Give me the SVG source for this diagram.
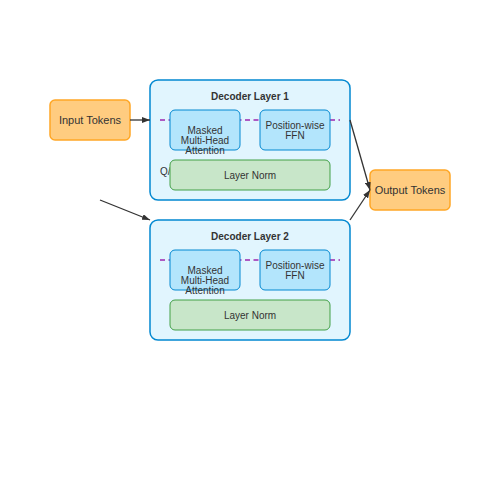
<svg xmlns="http://www.w3.org/2000/svg" width="500" height="500" viewBox="0 0 500 500">
<defs>
<marker id="arr" markerWidth="8" markerHeight="6" refX="8" refY="3" orient="auto" markerUnits="userSpaceOnUse">
<path d="M0,0 L8,3 L0,6 Z" fill="#333"/>
</marker>
<style>
text{font-family:"Liberation Sans",Arial,sans-serif;fill:#333;font-size:10px;text-anchor:middle}
.io{fill:#ffcc80;stroke:#ffa726;stroke-width:1.5}
.iot{font-size:11px}
.layer{fill:#e1f5fe;stroke:#0288d1;stroke-width:1.5}
.blk{fill:#b3e5fc;stroke:#0288d1;stroke-width:1}
.norm{fill:#c8e6c9;stroke:#43a047;stroke-width:1}
.dash{stroke:#9c27b0;stroke-width:1.5;stroke-dasharray:5,3.5;fill:none}
.conn{stroke:#333;stroke-width:1.3;fill:none}
.title{font-weight:bold}
</style>
</defs>
<rect width="500" height="500" fill="#fff"/>
<g id="input"><rect class="io" x="50" y="100" width="80" height="40" rx="5"/><text class="iot" x="90" y="124">Input Tokens</text></g>
<g id="output"><rect class="io" x="370" y="170" width="80" height="40" rx="5"/><text class="iot" x="410" y="194">Output Tokens</text></g>
<g id="layer1">
<rect class="layer" x="150" y="80" width="200" height="120" rx="8"/>
<text class="title" x="250" y="100">Decoder Layer 1</text>
<line class="dash" x1="160" y1="120" x2="340" y2="120"/>
<text x="160" y="175" style="text-anchor:start">Q/K/V</text>
<g id="attn1"><rect class="blk" x="170" y="110" width="70" height="40" rx="5"/><text x="205" y="134">Masked</text><text x="205" y="144">Multi-Head</text><text x="205" y="154">Attention</text></g>
<g id="ffn1"><rect class="blk" x="260" y="110" width="70" height="40" rx="5"/><text x="295" y="129">Position-wise</text><text x="295" y="139">FFN</text></g>
<g id="norm1"><rect class="norm" x="170" y="160" width="160" height="30" rx="5"/><text x="250" y="179">Layer Norm</text></g>
</g>
<g id="layer2">
<rect class="layer" x="150" y="220" width="200" height="120" rx="8"/>
<text class="title" x="250" y="240">Decoder Layer 2</text>
<line class="dash" x1="160" y1="260" x2="340" y2="260"/>
<g id="attn2"><rect class="blk" x="170" y="250" width="70" height="40" rx="5"/><text x="205" y="274">Masked</text><text x="205" y="284">Multi-Head</text><text x="205" y="294">Attention</text></g>
<g id="ffn2"><rect class="blk" x="260" y="250" width="70" height="40" rx="5"/><text x="295" y="269">Position-wise</text><text x="295" y="279">FFN</text></g>
<g id="norm2"><rect class="norm" x="170" y="300" width="160" height="30" rx="5"/><text x="250" y="319">Layer Norm</text></g>
</g>
<g id="connectors">
<line class="conn" x1="130" y1="120" x2="150" y2="120" marker-end="url(#arr)"/>
<line class="conn" x1="100" y1="200" x2="150" y2="220" marker-end="url(#arr)"/>
<line class="conn" x1="350" y1="120" x2="370" y2="190" marker-end="url(#arr)"/>
<line class="conn" x1="350" y1="220" x2="370" y2="190" marker-end="url(#arr)"/>
</g>
</svg>
